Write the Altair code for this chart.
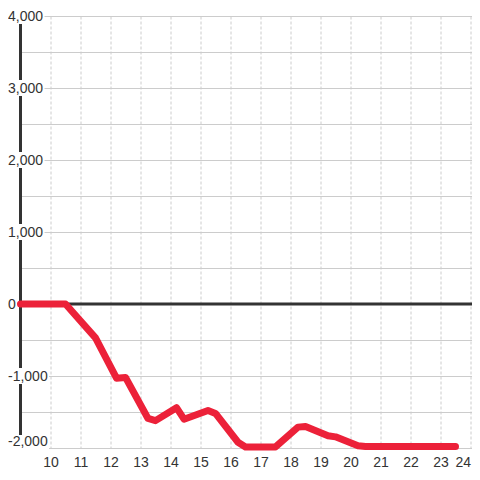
import altair as alt
import pandas as pd

# data
hours = [9, 10.5, 11.5, 12.2, 12.5, 13.25, 13.5, 14.2, 14.45, 15.25, 15.5,
         16.25, 16.5, 17.5, 18.25, 18.5, 19.25, 19.5, 20.25, 20.5, 23.5]
values = [0, 0, -470, -1030, -1020, -1590, -1620, -1440, -1600, -1480, -1520,
          -1920, -1985, -1985, -1710, -1700, -1830, -1845, -1970, -1980, -1980]
y_label_values = [4000, 3000, 2000, 1000, 0, -1000, -2000]
y_grid_values = list(range(-2000, 4001, 500))
x_tick_values = list(range(10, 25))

FONT = "Liberation Sans"
TXT = "#333333"
DARK = "#333333"
RED = "#ec2139"

W = 451.5
H = 432
line_df = pd.DataFrame({"h": hours, "v": values})
lab_df = pd.DataFrame({
    "v": y_label_values,
    "lab": [f"{v:,}" for v in y_label_values],
})
axis_df = pd.DataFrame({"x": [9], "y": [4000], "y2": [-2000]})
zero_df = pd.DataFrame({"v": [0]})

xs = alt.Scale(domain=[9, 9 + W / 30], nice=False, zero=False)
ys = alt.Scale(domain=[-2000, 4000], nice=False, zero=False)
unit = 6000 / H  # data units per pixel

x_axis = alt.Axis(values=x_tick_values, grid=True, gridDash=[3, 2], gridColor="#cccccc",
                  domain=False, ticks=False, labelFontSize=14, labelFont=FONT,
                  labelColor=TXT, labelPadding=7, labelFlush=False, title=None, format="d",
                  labelAlign=alt.expr("datum.value == 24 ? 'right' : 'center'"))
y_axis = alt.Axis(values=y_grid_values, grid=True, gridColor="#cccccc", labels=False,
                  ticks=False, domain=False, title=None)


def X(f):
    return alt.X(f, scale=xs, axis=x_axis)


def Y(f):
    return alt.Y(f, scale=ys, axis=y_axis)


axis_rule = alt.Chart(axis_df).mark_rule(color=DARK, strokeWidth=3).encode(
    x=X("x:Q"), y=Y("y:Q"), y2="y2:Q",
)

rect_base = alt.Chart(lab_df).transform_calculate(
    shift=f"datum.v == -2000 ? {5 * unit} : 0"
).transform_calculate(
    top=f"datum.v + datum.shift + {8 * unit}",
    bot=f"datum.v + datum.shift - {8 * unit}",
)
rects_pos = rect_base.transform_filter(alt.datum.v > 0).mark_rect(color="white").encode(
    x=alt.value(-12.5), x2=alt.value(24),
    y=Y("top:Q"), y2="bot:Q",
)
rects_neg = rect_base.transform_filter(alt.datum.v < 0).mark_rect(color="white").encode(
    x=alt.value(-12.5), x2=alt.value(28.5),
    y=Y("top:Q"), y2="bot:Q",
)

txt_kw = dict(fontSize=14, font=FONT, color=TXT, baseline="middle", align="left")
labels_main = alt.Chart(lab_df).transform_filter(alt.datum.v != -2000).mark_text(
    dy=1, **txt_kw).encode(
    x=alt.value(-12.5), y=Y("v:Q"), text="lab:N")
labels_bottom = alt.Chart(lab_df).transform_filter(alt.datum.v == -2000).mark_text(
    dy=-6, **txt_kw).encode(
    x=alt.value(-12.5), y=Y("v:Q"), text="lab:N")

zero_rule = alt.Chart(zero_df).mark_rule(color=DARK, strokeWidth=3).encode(y=Y("v:Q"))

red_line = alt.Chart(line_df).mark_line(
    color=RED, strokeWidth=7, strokeJoin="round", strokeCap="round").encode(
    x=X("h:Q"), y=Y("v:Q"),
)

chart = alt.layer(
    axis_rule, rects_pos, rects_neg, labels_main, labels_bottom,
    zero_rule, red_line,
).properties(
    width=W, height=H,
    autosize=alt.AutoSizeParams(type="none"),
    padding={"left": 12.5, "top": 8, "right": 0, "bottom": 24},
).configure_view(stroke=None)

chart.save("out.html", embed_options={"renderer": "svg", "actions": False})
